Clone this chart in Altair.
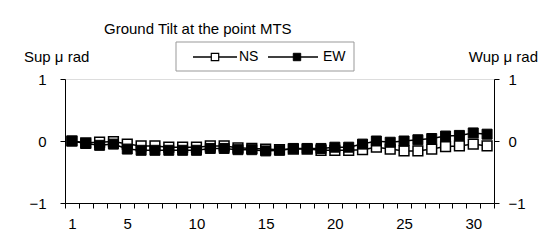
import altair as alt
import pandas as pd

days = list(range(1, 32))
ns = [0.0, -0.03, -0.02, -0.01, -0.05, -0.08, -0.08, -0.10, -0.10, -0.10, -0.08,
      -0.08, -0.11, -0.12, -0.13, -0.14, -0.13, -0.13, -0.15, -0.15, -0.15, -0.14,
      -0.10, -0.13, -0.16, -0.16, -0.13, -0.09, -0.08, -0.05, -0.08]
ew = [0.0, -0.04, -0.07, -0.05, -0.13, -0.15, -0.15, -0.15, -0.15, -0.15, -0.12,
      -0.12, -0.14, -0.14, -0.16, -0.15, -0.12, -0.12, -0.12, -0.10, -0.10, -0.05,
      0.0, -0.02, 0.0, 0.02, 0.04, 0.08, 0.09, 0.13, 0.11]
label_days = [1, 5, 10, 15, 20, 25, 30]
y_ticks = [-1, 0, 1]
title_text = "Ground Tilt at the point MTS"
left_title = "Sup μ rad"
right_title = "Wup μ rad"
series_names = ["NS", "EW"]

FONT = "Liberation Sans"

df = pd.DataFrame({"day": days, "NS": ns, "EW": ew})

label_expr = "indexof(%s, datum.value) >= 0 ? datum.label : ''" % str(label_days)
ylabel_expr = "format(datum.value, '.0f')"

xenc = alt.X("day:O", bandPosition=0.5,
             scale=alt.Scale(type="band", paddingInner=0, paddingOuter=0),
             axis=alt.Axis(title=None, labelAngle=0, tickBand="extent", labelExpr=label_expr,
                           domainColor="black", tickColor="black", tickSize=5,
                           labelFontSize=15, labelPadding=8, labelColor="black",
                           labelFont=FONT))
yscale = alt.Scale(domain=[-1, 1], nice=False, zero=False)

base = alt.Chart(df)

ns_line = base.mark_line(color="black", strokeWidth=1.5).encode(
    x=xenc,
    y=alt.Y("NS:Q", scale=yscale,
            axis=alt.Axis(orient="left", title=None, values=y_ticks, labelExpr=ylabel_expr,
                          grid=False, labelOverlap=False,
                          domainColor="black", tickColor="black", tickSize=5,
                          labelFontSize=15, labelPadding=14, labelColor="black",
                          labelFont=FONT)))
ns_pts = base.mark_point(shape="square", filled=True, fill="white", stroke="black",
                         strokeWidth=1.5, size=95, opacity=1).encode(
    x=xenc, y=alt.Y("NS:Q", scale=yscale, axis=None))
ew_line = base.mark_line(color="black", strokeWidth=1.5).encode(
    x=xenc,
    y=alt.Y("EW:Q", scale=yscale,
            axis=alt.Axis(orient="right", title=None, values=y_ticks, labelExpr=ylabel_expr,
                          grid=False, labelOverlap=False,
                          domainColor="black", tickColor="black", tickSize=5,
                          labelFontSize=15, labelPadding=9, labelColor="black",
                          labelFont=FONT)))
ew_pts = base.mark_point(shape="square", filled=True, fill="black", stroke="black",
                         strokeWidth=1, size=100, opacity=1).encode(
    x=xenc, y=alt.Y("EW:Q", scale=yscale, axis=None))

one = alt.Chart(pd.DataFrame({"a": [0]}))

title = one.mark_text(align="left", baseline="middle", fontSize=15, font=FONT,
                      color="black").encode(
    x=alt.value(39), y=alt.value(-50), text=alt.value(title_text))
ltitle = one.mark_text(align="left", baseline="middle", fontSize=15, font=FONT,
                       color="black").encode(
    x=alt.value(-41), y=alt.value(-22), text=alt.value(left_title))
rtitle = one.mark_text(align="right", baseline="middle", fontSize=15, font=FONT,
                       color="black").encode(
    x=alt.value(473), y=alt.value(-22), text=alt.value(right_title))

legend_box = one.mark_rect(fill="white", stroke="#999999", strokeWidth=1).encode(
    x=alt.value(111), x2=alt.value(289), y=alt.value(-37), y2=alt.value(-8))
leg_ns_line = one.mark_rule(color="black", strokeWidth=1.5).encode(
    x=alt.value(128), x2=alt.value(172), y=alt.value(-22))
leg_ns_pt = one.mark_point(shape="square", filled=True, fill="white", stroke="black",
                           strokeWidth=1.2, size=55, opacity=1).encode(
    x=alt.value(150), y=alt.value(-22))
leg_ns_txt = one.mark_text(align="left", baseline="middle", fontSize=14, font=FONT,
                           color="black").encode(
    x=alt.value(174), y=alt.value(-22), text=alt.value(series_names[0]))
leg_ew_line = one.mark_rule(color="black", strokeWidth=1.5).encode(
    x=alt.value(203), x2=alt.value(253), y=alt.value(-22))
leg_ew_pt = one.mark_point(shape="square", filled=True, fill="black", stroke="black",
                           strokeWidth=1, size=55, opacity=1).encode(
    x=alt.value(232), y=alt.value(-22))
leg_ew_txt = one.mark_text(align="left", baseline="middle", fontSize=14, font=FONT,
                           color="black").encode(
    x=alt.value(258), y=alt.value(-22), text=alt.value(series_names[1]))

chart = alt.layer(
    ns_line, ew_line, ns_pts, ew_pts,
    title, ltitle, rtitle,
    legend_box, leg_ns_line, leg_ns_pt, leg_ns_txt, leg_ew_line, leg_ew_pt, leg_ew_txt,
).resolve_scale(y="shared").resolve_axis(y="independent").properties(
    width=429, height=124,
    autosize=alt.AutoSizeParams(type="none"),
    padding={"left": 57, "top": 71, "right": 46, "bottom": 29},
).configure_view(stroke="#999999", strokeWidth=1).configure(background="white")

chart.save("out.html", embed_options={"renderer": "svg", "actions": False})
